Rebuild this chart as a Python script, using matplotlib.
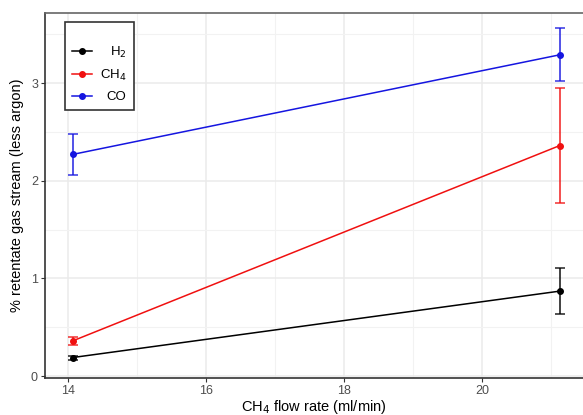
import matplotlib.pyplot as plt

plt.rcParams["font.family"] = ["Liberation Sans", "DejaVu Sans"]

flow_rate = [14.07, 21.12]

h2_mean = [0.19, 0.87]
h2_err = [0.02, 0.235]
ch4_mean = [0.36, 2.36]
ch4_err = [0.045, 0.59]
co_mean = [2.27, 3.29]
co_err = [0.21, 0.27]

series = [
    ("H$_2$", h2_mean, h2_err, "black"),
    ("CH$_4$", ch4_mean, ch4_err, "#F01010"),
    ("CO", co_mean, co_err, "#1515E0"),
]


def right_align_legend(fig: plt.Figure, leg) -> None:
    # ggplot-style legend: labels flush right inside the key box
    fig.canvas.draw()
    renderer = fig.canvas.get_renderer()
    widths = [t.get_window_extent(renderer).width for t in leg.get_texts()]
    widest = max(widths)
    for text, width in zip(leg.get_texts(), widths):
        text.set_x(widest - width)


def main() -> None:
    fig = plt.figure(figsize=(5.83, 4.15), dpi=100)
    ax = fig.add_axes([0.077, 0.089, 0.923, 0.88])

    for label, mean, err, color in series:
        ax.errorbar(flow_rate, mean, yerr=err, fmt="none", ecolor=color,
                    elinewidth=1.3, capsize=3.5, capthick=1.2, alpha=0.8)
        ax.plot(flow_rate, mean, color=color, linewidth=1.1, marker="o",
                markersize=4, label=label)

    ax.set_xlim(13.67, 21.46)
    ax.set_ylim(-0.02, 3.72)
    ax.set_xticks([14, 16, 18, 20])
    ax.set_xticks([15, 17, 19, 21], minor=True)
    ax.set_yticks([0, 1, 2, 3])
    ax.set_yticks([0.5, 1.5, 2.5, 3.5], minor=True)
    ax.grid(True, which="major", color="#EBEBEB", linewidth=1.1)
    ax.grid(True, which="minor", color="#F2F2F2", linewidth=0.8)
    ax.set_axisbelow(True)

    ax.tick_params(which="major", length=3, width=0.8, color="#333333",
                   labelsize=9, labelcolor="#4D4D4D", pad=2)
    ax.tick_params(which="minor", length=0)

    for side in ("left", "bottom"):
        ax.spines[side].set_color("#333333")
        ax.spines[side].set_linewidth(1.2)
    ax.spines["top"].set_color("#666666")
    ax.spines["top"].set_linewidth(1.2)
    ax.spines["right"].set_visible(False)

    ax.set_xlabel("CH$_4$ flow rate (ml/min)", fontsize=10.5, labelpad=0.5)
    ax.set_ylabel("% retentate gas stream (less argon)", fontsize=10.5,
                  labelpad=5)

    leg = ax.legend(loc="upper left", bbox_to_anchor=(0.037, 0.975),
                    fontsize=9.5, handlelength=1.5, handletextpad=0.6,
                    labelspacing=0.62, borderpad=0.55, fancybox=False,
                    framealpha=1, edgecolor="#333333", borderaxespad=0,
                    title=" ", title_fontsize=5)
    leg.get_frame().set_linewidth(1.2)
    right_align_legend(fig, leg)

    plt.savefig("out.png", dpi=100)


if __name__ == "__main__":
    main()
